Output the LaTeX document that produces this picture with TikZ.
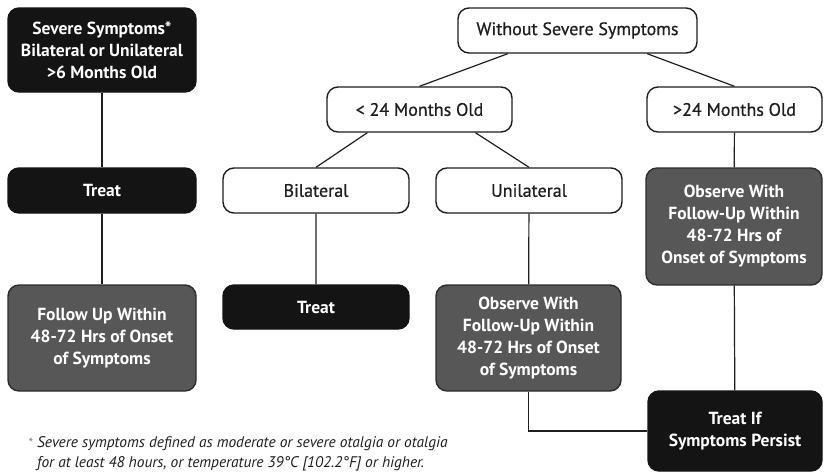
\documentclass[tikz,border=0pt]{standalone}
\usepackage{fontspec}
\setmainfont{PT Sans}
\newfontface\medface{PT Sans}[FakeBold=0.6]
\usetikzlibrary{calc}
\definecolor{boxblack}{HTML}{141414}
\definecolor{boxgray}{HTML}{575757}
\definecolor{inkgray}{HTML}{1E1E1E}
\begin{document}
\begin{tikzpicture}[x=1pt,y=-1pt,
    % box looks
    card/.style={rounded corners=11pt,line width=1.4pt,inner sep=0pt,
        align=center,font=\fontsize{18}{22}\selectfont\medface},
    plainbox/.style={card,draw=inkgray,fill=white,text=inkgray},
    darkbox/.style={card,draw=boxblack,fill=boxblack,text=white,
        font=\fontsize{17.5}{22}\selectfont\bfseries},
    graybox/.style={card,draw=boxblack!90,fill=boxgray,text=white,
        font=\fontsize{17.5}{22}\selectfont\bfseries},
    link/.style={draw=inkgray,line width=1.2pt}]
\useasboundingbox (0,0) rectangle (824,472);

% left column
\node[darkbox,minimum width=188pt,minimum height=84pt] (sev) at (102,50)
    {Severe Symptoms*\\Bilateral or Unilateral\\>6 Months Old};
\node[darkbox,minimum width=188pt,minimum height=45pt] (treatL) at (102,190.5) {Treat};
\node[graybox,minimum width=188pt,minimum height=106pt] (follow) at (102,338)
    {Follow Up Within\\48-72 Hrs of Onset\\of Symptoms};

% right tree
\node[plainbox,minimum width=239pt,minimum height=45pt] (ws) at (577.5,30.5)
    {Without Severe Symptoms};
\node[plainbox,minimum width=185pt,minimum height=45pt] (lt) at (419.5,109.5)
    {< 24 Months Old};
\node[plainbox,minimum width=175pt,minimum height=45pt] (gt) at (734.5,109.5)
    {>24 Months Old};
\node[plainbox,minimum width=186pt,minimum height=45pt] (bil) at (316,190.5) {Bilateral};
\node[plainbox,minimum width=186pt,minimum height=45pt] (uni) at (529,190.5) {Unilateral};
\node[darkbox,minimum width=186pt,minimum height=44pt] (treatM) at (316,307) {Treat};
\node[graybox,minimum width=185pt,minimum height=106pt] (obsM) at (528.5,338)
    {Observe With\\Follow-Up Within\\48-72 Hrs of Onset\\of Symptoms};
\node[graybox,minimum width=176pt,minimum height=117pt] (obsR) at (734,226.5)
    {Observe With\\Follow-Up Within\\48-72 Hrs of\\Onset of Symptoms};
\node[darkbox,minimum width=174pt,minimum height=80pt] (treatIf) at (735,431)
    {Treat If\\Symptoms Persist};

% footnote
\node[anchor=north west,inner sep=0pt,align=left,text=inkgray,
    font=\fontsize{15.4}{20}\selectfont\itshape] (note) at (37,436)
    {\llap{\textcolor{gray}{\fontsize{13}{13}\selectfont\upshape*}\hspace{4pt}}Severe symptoms defined as moderate or severe otalgia or otalgia\\
     for at least 48 hours, or temperature 39°C [102.2°F] or higher.};

% connectors
\draw[link] (sev) -- (treatL) (treatL) -- (follow);
\draw[link] ($(ws.south west)!0.21!(ws.south east)$) -- (lt.north)
    ($(ws.south west)!0.79!(ws.south east)$) -- (gt.north);
\draw[link] ($(lt.south west)!0.22!(lt.south east)$) -- (bil.north)
    ($(lt.south west)!0.8!(lt.south east)$) -- (uni.north);
\draw[link] (bil) -- (treatM) (uni) -- (obsM);
\draw[link] (gt) -- (obsR) (obsR) -- (treatIf);
\draw[link] (obsM.south) |- (treatIf.west);
\end{tikzpicture}
\end{document}
